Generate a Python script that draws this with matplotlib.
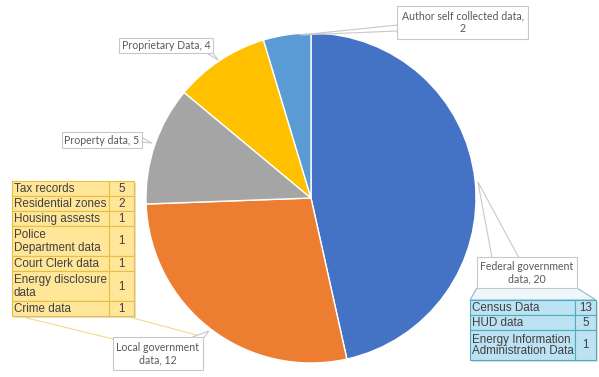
import matplotlib.pyplot as plt
from matplotlib.patches import Rectangle, Polygon

# Data sources and how many studies used each
sources = ["Federal government\ndata, {}", "Local government\ndata, {}",
           "Property data, {}", "Proprietary Data, {}",
           "Author self collected data,\n{}"]
counts = [20, 12, 5, 4, 2]
colors = ["#4472C4", "#ED7D31", "#A5A5A5", "#FFC000", "#5B9BD5"]

# Breakdown tables
local_items = ["Tax records", "Residential zones", "Housing assests",
               "Police\nDepartment data", "Court Clerk data",
               "Energy disclosure\ndata", "Crime data"]
local_counts = [5, 2, 1, 1, 1, 1, 1]
federal_items = ["Census Data", "HUD data",
                 "Energy Information\nAdministration Data"]
federal_counts = [13, 5, 1]

W, H = 599, 377
fig = plt.figure(figsize=(W / 100, H / 100), dpi=100)
ax = fig.add_axes([0, 0, 1, 1])

# pixel coords with y pointing down, so angles run the other way
ax.pie(counts, colors=colors, center=(311, 198), radius=165,
       startangle=-90, counterclock=True,
       wedgeprops=dict(edgecolor="white", linewidth=1.0))
ax.set_xlim(0, W)
ax.set_ylim(H, 0)
ax.set_aspect("equal")
ax.axis("off")

LABEL_FONT = "Lato"
TABLE_FONT = "Liberation Sans"


def callout(box, wedge=None, color="#C8C8C8"):
    x0, y0, x1, y1 = box
    if wedge is not None:
        ax.add_patch(Polygon(wedge, closed=True, facecolor="white",
                             edgecolor=color, lw=0.8, zorder=3))
    ax.add_patch(Rectangle((x0, y0), x1 - x0, y1 - y0, facecolor="white",
                           edgecolor=color, lw=0.8, zorder=4))


def label(box, text):
    x0, y0, x1, y1 = box
    ax.text((x0 + x1) / 2, (y0 + y1) / 2, text, ha="center", va="center",
            fontsize=7.6, family=LABEL_FONT, color="#595959",
            linespacing=1.15, zorder=5)


def table(x0, y0, wname, wval, unit, items, vals, fill, edge):
    heights = [unit * (it.count("\n") + 1) for it in items]
    total = sum(heights)
    ax.add_patch(Rectangle((x0 + 2, y0 + 2), wname + wval, total,
                           facecolor="#000000", alpha=0.12, lw=0, zorder=5))
    y = y0
    for it, v, h in zip(items, vals, heights):
        ax.add_patch(Rectangle((x0, y), wname, h, facecolor=fill,
                               edgecolor=edge, lw=0.8, zorder=6))
        ax.add_patch(Rectangle((x0 + wname, y), wval, h, facecolor=fill,
                               edgecolor=edge, lw=0.8, zorder=6))
        ax.text(x0 + 2, y + h / 2 + 0.5, it, ha="left", va="center",
                fontsize=8.4, family=TABLE_FONT, color="#404040",
                linespacing=1.0, zorder=7)
        ax.text(x0 + wname + wval / 2, y + h / 2 + 0.5, str(v), ha="center",
                va="center", fontsize=8.4, family=TABLE_FONT, color="#404040",
                zorder=7)
        y += h
    return total


# label boxes with their pointers
boxes = [
    (477, 257, 577, 288),
    (113, 337, 203, 370),
    (62, 132, 142, 148),
    (119, 38, 213, 53),
    (397, 6, 528, 39),
]
wedges = [
    [(478, 182), (492, 258), (519, 258)],
    [(209, 331), (190, 338), (202, 340)],
    [(152, 143), (141, 137), (141, 142)],
    [(218, 60), (205, 52), (212, 52)],
    [(300, 35), (398, 25), (398, 31)],
]
for fmt, n, box, wd in zip(sources, counts, boxes, wedges):
    callout(box, wd)
    label(box, fmt.format(n))

# local government breakdown, tied to its label
ax.plot([27, 113], [318, 339], color="#F2D98C", lw=0.8, zorder=2)
ax.plot([133, 200], [318, 336], color="#F2D98C", lw=0.8, zorder=2)
table(12, 181, 97, 25, 15, local_items, local_counts, "#FFE699", "#E8C040")

# federal breakdown, tied to its label
ax.add_patch(Polygon([(477, 288), (577, 288), (596, 300), (470, 300)],
                     closed=True, facecolor="#EEF7FB", edgecolor="#8FB8C8",
                     lw=0.8, zorder=3))
table(470, 300, 105, 21, 15, federal_items, federal_counts, "#BDE3F2",
      "#4BACC6")

fig.savefig("out.png", dpi=100)
